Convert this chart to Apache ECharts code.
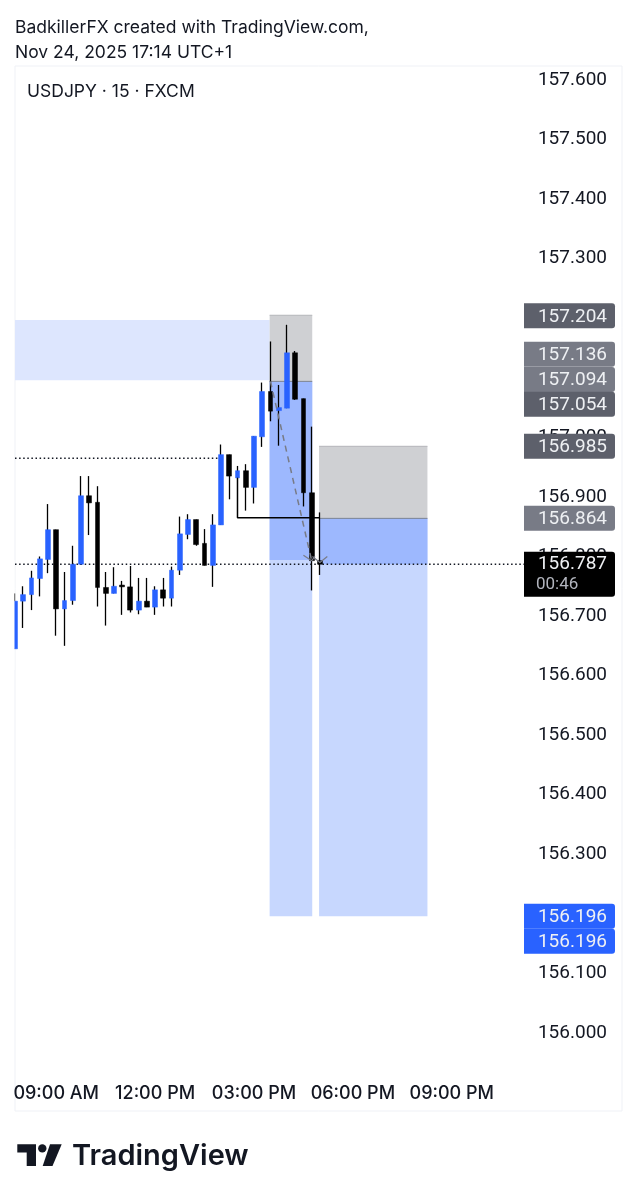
<!DOCTYPE html>
<html><head><meta charset="utf-8">
<style>html,body{margin:0;padding:0;background:#fff}#c{width:637px;height:1200px}</style>
<script src="https://cdn.jsdelivr.net/npm/echarts@6/dist/echarts.min.js"></script>
</head><body><div id="c"></div>
<script>
// [index, open, close, low, high]
const candles = [
[0,156.645,156.725,156.645,156.738],[1,156.725,156.736,156.680,156.750],[2,156.736,156.764,156.710,156.776],
[3,156.763,156.796,156.733,156.800],[4,156.795,156.845,156.772,156.888],[5,156.845,156.712,156.667,156.845],
[6,156.712,156.726,156.650,156.774],[7,156.726,156.787,156.719,156.818],[8,156.787,156.902,156.786,156.935],
[9,156.902,156.890,156.836,156.935],[10,156.891,156.748,156.716,156.918],[11,156.748,156.738,156.684,156.774],
[12,156.738,156.750,156.738,156.782],[13,156.752,156.749,156.702,156.759],[14,156.749,156.710,156.706,156.784],
[15,156.710,156.725,156.703,156.764],[16,156.725,156.715,156.715,156.764],[17,156.715,156.744,156.702,156.750],
[18,156.744,156.730,156.716,156.764],[19,156.730,156.777,156.716,156.783],[20,156.777,156.838,156.769,156.867],
[21,156.837,156.862,156.829,156.871],[22,156.862,156.820,156.818,156.862],[23,156.822,156.785,156.785,156.846],
[24,156.785,156.853,156.749,156.871],[25,156.853,156.971,156.853,156.988],[26,156.971,156.935,156.896,156.971],
[27,156.932,156.944,156.932,156.952],[28,156.944,156.916,156.877,156.955],[29,156.916,157.002,156.889,157.002],
[30,157.001,157.077,156.984,157.092],[31,157.077,157.044,157.027,157.161],[32,157.045,157.050,156.986,157.088],
[33,157.049,157.142,157.049,157.189],[34,157.142,157.064,157.063,157.145],[35,157.065,156.907,156.884,157.065],
[36,156.907,156.793,156.743,157.018],[37,156.793,156.787,156.769,156.874]
];
const priceTicks = [157.6,157.5,157.4,157.3,157.2,157.1,157.0,156.9,156.8,156.7,156.6,156.5,156.4,156.3,156.2,156.1,156.0];
const timeTickIndex = [5,17,29,41,53];
const timeTickLabels = ['09:00 AM','12:00 PM','03:00 PM','06:00 PM','09:00 PM'];
// [x0, x1, priceTop, priceBottom]
const demandZone = [0,30.9,157.197,157.096];
const stopZones = [[30.9,36.07,157.205,157.094],[36.9,50.05,156.985,156.864]];
const targetZones = [[30.9,36.07,157.094,156.196],[36.9,50.05,156.864,156.196]];
const activeZones = [[30.9,36.07,157.094,156.794],[36.9,50.05,156.864,156.787]];
const dottedLow = [[0,156.787],[61.8,156.787]];
const dottedHigh = [[0,156.965],[25,156.965]];
const stepLine = [[27,156.932],[27,156.865],[37,156.865]];
const arrowShaft = [[31,157.094],[36,156.793]];
const arrowHeads = [
  [[35,156.802],[36,156.793],[36.4,156.800]],
  [[36.1,156.800],[37,156.790],[37.9,156.800]]
];
const zoneEdges = [
  [[30.9,157.094],[36.07,157.094]],[[36.9,156.864],[50.05,156.864]],
  [[30.9,157.205],[36.07,157.205]],[[36.9,156.985],[50.05,156.985]]
];
const priceTags = [
 [157.204,'#5d606b'],[157.136,'#787b86'],[157.094,'#787b86'],[157.054,'#5d606b'],
 [156.985,'#5d606b'],[156.864,'#787b86'],[156.196,'#2962ff'],[156.196,'#2962ff']
];
const tagShift = [0,-2,-2,-1,0,0,0,25];
const lastPrice = 156.787, countdown = '00:46';

const FONT = 'Inter, "Liberation Sans", sans-serif';
const NUM = 'Roboto, "Liberation Sans", sans-serif';
const box = (a,color)=>[{coord:[a[0],a[2]],itemStyle:{color}},{coord:[a[1],a[3]]}];
const areaSeries = (name,items,z)=>({name,type:'line',data:[],z,silent:true,markArea:{silent:true,data:items}});
const lineSeries = (data,style,z)=>({type:'line',data,symbol:'none',silent:true,z,lineStyle:style,clip:false});
const bodies = candles.map(c=>[c[0],c[1],c[2],Math.min(c[1],c[2]),Math.max(c[1],c[2])]);

const tagText = '400 19px '+NUM;
const chart = echarts.init(document.getElementById('c'),null,{renderer:'canvas'});
chart.setOption({
 animation:false,
 backgroundColor:'#fff',
 title:[
  {text:'BadkillerFX created with TradingView.com,\nNov 24, 2025 17:14 UTC+1',left:10,top:10,
   textStyle:{fontFamily:FONT,fontSize:17.5,fontWeight:400,color:'#131722',lineHeight:25}},
  {text:'USDJPY · 15 · FXCM',left:22,top:77,textStyle:{fontFamily:FONT,fontSize:17.5,fontWeight:400,color:'#131722',lineHeight:20}}
 ],
 grid:{left:15,right:15,top:66,bottom:89,show:true,borderColor:'#eff1f6',borderWidth:1,backgroundColor:'#fff'},
 xAxis:{type:'value',min:0,max:73.66,splitLine:{show:false},axisLine:{show:false},axisTick:{show:false},
  axisLabel:{inside:true,margin:8,customValues:timeTickIndex,hideOverlap:false,showMinLabel:true,showMaxLabel:true,
   formatter:v=>timeTickLabels[timeTickIndex.indexOf(v)]||'',
   color:'#131722',fontFamily:FONT,fontSize:18,fontWeight:500,verticalAlign:'bottom'}},
 yAxis:{type:'value',position:'right',min:155.869,max:157.6235,scale:true,splitLine:{show:false},axisLine:{show:false},axisTick:{show:false},
  axisLabel:{inside:true,margin:15,customValues:priceTicks,formatter:v=>v.toFixed(3),padding:[4,0,0,0],
   color:'#131722',fontFamily:NUM,fontSize:19,fontWeight:400}},
 series:[
  areaSeries('demand',[box(demandZone,'#dde6fe')],1),
  areaSeries('target',targetZones.map(a=>box(a,'#c7d7fe')),1),
  areaSeries('stop',stopZones.map(a=>box(a,'#cfd0d3')),2),
  areaSeries('active',activeZones.map(a=>box(a,'#9db8fe')),2),
  lineSeries(zoneEdges[0],{color:'#7d8391',width:1},3),
  lineSeries(zoneEdges[1],{color:'#7d8391',width:1},3),
  lineSeries(zoneEdges[2],{color:'#b4b5b9',width:1},3),
  lineSeries(zoneEdges[3],{color:'#b4b5b9',width:1},3),
  lineSeries(dottedHigh,{color:'#131722',width:1.4,type:[1.5,2.6]},3),
  lineSeries(dottedLow,{color:'#131722',width:1.4,type:[1.5,2.6]},3),
  {name:'wicks',type:'candlestick',z:5,silent:true,barWidth:0.2,data:candles,encode:{x:0,y:[1,2,3,4]},
   itemStyle:{color:'#000',color0:'#000',borderColor:'#000',borderColor0:'#000',borderWidth:1.3}},
  {name:'bodies',type:'candlestick',z:6,silent:true,barWidth:5.3,data:bodies,encode:{x:0,y:[1,2,3,4]},
   itemStyle:{color:'#2962ff',color0:'#000',borderColor:'#2962ff',borderColor0:'#000',borderWidth:0.5}},
  lineSeries(stepLine,{color:'#000',width:1.5},7),
  lineSeries(arrowShaft,{color:'#787b86',width:1.5,type:[6,5]},8),
  lineSeries(arrowHeads[0],{color:'#787b86',width:1.2},8),
  lineSeries(arrowHeads[1],{color:'#787b86',width:1.2},8),
  {type:'custom',z:10,silent:true,clip:false,data:priceTags.map(t=>[t[0]]),encode:{y:0},
   renderItem(params,api){
     const i=params.dataIndex,cs=params.coordSys,right=cs.x+cs.width-7,left=right-91;
     const y=api.coord([0,api.value(0)])[1]+tagShift[i];
     return {type:'group',children:[
       {type:'rect',shape:{x:left,y:y-12.5,width:91,height:25,r:[0,3,3,0]},style:{fill:priceTags[i][1]}},
       {type:'text',style:{x:right-8,y:y+1,text:api.value(0).toFixed(3),align:'right',verticalAlign:'middle',fill:'#eef0f3',font:tagText}}
     ]};
   }},
  {type:'custom',z:11,silent:true,clip:false,data:[[lastPrice]],encode:{y:0},
   renderItem(params,api){
     const cs=params.coordSys,right=cs.x+cs.width-7,left=right-91;
     const y=api.coord([0,api.value(0)])[1];
     return {type:'group',children:[
       {type:'rect',shape:{x:left,y:y-12.5,width:91,height:45,r:[0,3,3,0]},style:{fill:'#000'}},
       {type:'text',style:{x:right-8,y:y,text:api.value(0).toFixed(3),align:'right',verticalAlign:'middle',fill:'#eef0f3',font:tagText}},
       {type:'text',style:{x:left+12,y:y+21,text:countdown,align:'left',verticalAlign:'middle',fill:'#b2b5be',font:'400 17px '+NUM}}
     ]};
   }}
 ],
 graphic:[
  {type:'rect',z:100,shape:{x:0,y:560,width:14.5,height:110},style:{fill:'#fff'}},
  {type:'polygon',shape:{points:[[17.3,1144.3],[36,1144.3],[36,1166],[26.7,1166],[26.7,1152.5],[17.3,1152.5]]},style:{fill:'#131722'}},
  {type:'circle',shape:{cx:42.3,cy:1148.4,r:4.2},style:{fill:'#131722'}},
  {type:'polygon',shape:{points:[[50,1144.3],[61.7,1144.3],[52.5,1166],[42.7,1166]]},style:{fill:'#131722'}},
  {type:'text',style:{x:72,y:1156,text:'TradingView',verticalAlign:'middle',fill:'#131722',font:'600 29px '+FONT}}
 ]
});
</script></body></html>
